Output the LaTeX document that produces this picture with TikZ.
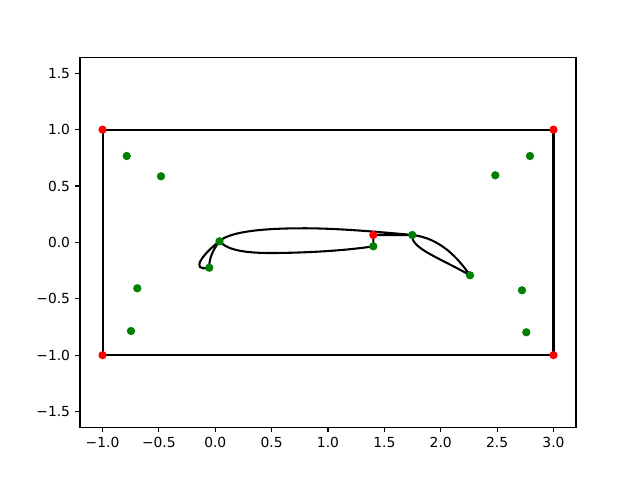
\documentclass[tikz,border=0pt]{standalone}
\usepackage{fontspec}
\setmainfont{DejaVu Sans}
\definecolor{mplgreen}{HTML}{008000}
\definecolor{mplred}{HTML}{FF0000}
\tikzset{
  spine/.style={line width=0.8pt, black},
  tickmark/.style={line width=0.8pt, black},
  ticklabel/.style={inner sep=0pt, font=\fontsize{10}{12}\selectfont},
  boxline/.style={line width=1.5pt, black, line cap=butt},
  curveline/.style={line width=1.5pt, black, line join=round},
  gdot/.style={circle, fill=mplgreen, draw=none, minimum size=6pt, inner sep=0pt},
  rdot/.style={circle, fill=mplred, draw=none, minimum size=6pt, inner sep=0pt}
}
\begin{document}
\begin{tikzpicture}[x=0.01in,y=-0.01in]
\useasboundingbox (0,0) rectangle (640,480);
\fill[white] (0,0) rectangle (640,480);

% corner coordinates of the box
\coordinate (c1) at (102.54,129.67);
\coordinate (c2) at (553.46,129.67);
\coordinate (c3) at (553.46,355.13);
\coordinate (c4) at (102.54,355.13);
\draw[boxline] (c1) -- (c2) -- (c3) -- (c4) -- cycle;

% curve points
\coordinate (R)  at (373.3,235);
\coordinate (G1) at (373.3,246.3);
\coordinate (G2) at (412.3,235);
\coordinate (G3) at (470,275.3);
\coordinate (G4) at (219.5,241.3);
\coordinate (G5) at (209.3,267.7);
\coordinate (T1) at (300,228.3);
\coordinate (B1) at (270,253);

\draw[curveline] (R) -- (G2)
  .. controls (440,238) and (458,258) .. (G3)
  .. controls (440,258) and (410,248) .. (G2)
  .. controls (370,231) and (330,228) .. (T1)
  .. controls (255,228.5) and (228,233) .. (G4)
  .. controls (205,252) and (188,272) .. (G5)
  .. controls (209,258) and (213,250) .. (G4)
  .. controls (225,247) and (235,253) .. (B1)
  .. controls (310,253) and (350,250) .. (G1)
  -- cycle;

% corner markers
\node[rdot] (rc1) at (c1) {};
\node[rdot] (rc2) at (c2) {};
\node[rdot] (rc3) at (c3) {};
\node[rdot] (rc4) at (c4) {};

% green markers
\node[gdot] (a1) at (126.7,156) {};
\node[gdot] (a2) at (161,176.3) {};
\node[gdot] (a3) at (137.3,288.3) {};
\node[gdot] (a4) at (131,331) {};
\node[gdot] (b1) at (530,156) {};
\node[gdot] (b2) at (495.3,175.3) {};
\node[gdot] (b3) at (522,290.3) {};
\node[gdot] (b4) at (526.3,332.3) {};
\node[gdot] (g1) at (G1) {};
\node[gdot] (g2) at (G2) {};
\node[gdot] (g3) at (G3) {};
\node[gdot] (g4) at (G4) {};
\node[gdot] (g5) at (G5) {};
\node[rdot] (r0) at (R) {};

% axes frame
\draw[spine] (80,57.6) rectangle (576,427.2);

% x ticks
\foreach \px/\t [count=\i] in {102.54/{−1.0},158.9/{−0.5},215.27/{0.0},271.6/{0.5},328.0/{1.0},384.4/{1.5},440.7/{2.0},497.1/{2.5},553.46/{3.0}}{
  \draw[tickmark] (\px,427.2) -- (\px,432.06);
  \node[ticklabel, anchor=north] (xt\i) at (\px,436.9) {\t};
}
% y ticks
\foreach \py/\t [count=\i] in {73.3/{1.5},129.67/{1.0},186.0/{0.5},242.4/{0.0},298.8/{−0.5},355.13/{−1.0},411.5/{−1.5}}{
  \draw[tickmark] (80,\py) -- (75.14,\py);
  \node[ticklabel, anchor=east] (yt\i) at (70.3,\py) {\t};
}
\end{tikzpicture}
\end{document}
